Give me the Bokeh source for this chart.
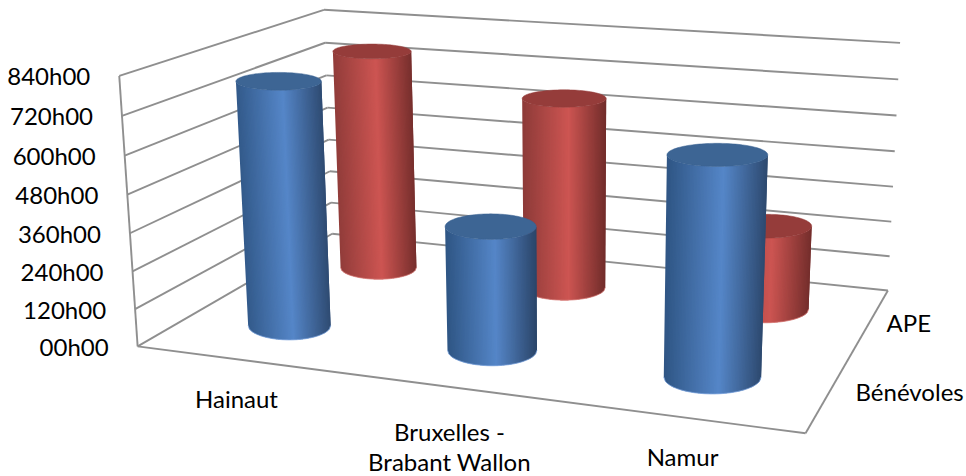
import numpy as np
from bokeh.plotting import figure
from bokeh.core.properties import value
from bokeh.embed import file_html
from bokeh.resources import INLINE

# ---- data (hours) ----
categories = ["Hainaut", "Bruxelles -", "Brabant Wallon", "Namur"]
series_names = ["Bénévoles", "APE"]
benevoles = [785, 390, 665]
ape = [765, 650, 280]
tick_values = [0, 120, 240, 360, 480, 600, 720, 840]
tick_labels = ["00h00", "120h00", "240h00", "360h00", "480h00", "600h00", "720h00", "840h00"]
z_max = 840

# ---- layout: camera fitted on the visible corners of the 3D box ----
box_unit = [(0,0,0),(1,0,0),(1,1,0),(0,1,0),(0,0,1),(0,1,1),(1,1,1)]
box_px = [(136,347),(805,432),(887,291),(333,232),(120,75),(322,10),(900,42)]
A = []
for (X,Y,Z),(u,v) in zip(box_unit, box_px):
    A.append([X,Y,Z,1,0,0,0,0,-u*X,-u*Y,-u*Z,-u])
    A.append([0,0,0,0,X,Y,Z,1,-v*X,-v*Y,-v*Z,-v])
P = np.linalg.svd(np.array(A, float))[2][-1].reshape(3,4)

def proj(x, y, z):
    x, y, z = np.broadcast_arrays(np.asarray(x,float), np.asarray(y,float), np.asarray(z,float))
    h = P @ np.stack([x, y, z, np.ones_like(x)])
    return h[0]/h[2], h[1]/h[2]

W, H = 966, 476
p = figure(width=W, height=H, x_range=(0, W), y_range=(H, 0), output_backend="svg",
           toolbar_location=None, min_border=0, outline_line_color=None)
p.axis.visible = False
p.grid.visible = False
p.background_fill_color = "white"

GRID = "#8f8f8f"
def seg(a, b, w=1.9):
    xs, ys = proj([a[0], b[0]], [a[1], b[1]], [a[2], b[2]])
    p.line(list(xs), list(ys), line_color=GRID, line_width=w)

for v in tick_values:
    z = v/z_max
    seg((0,0,z), (0,1,z))
    seg((0,1,z), (1,1,z))
seg((0,0,0), (0,0,1))
seg((0,0,0), (1,0,0))
seg((1,0,0), (1,1,0))

def ramp(t, dark_l, light, dark_r):
    stops = np.array([dark_l, light, dark_r], float)
    c = [np.interp(t, [0, .55, 1], stops[:,i]) for i in range(3)]
    return "#%02x%02x%02x" % tuple(int(round(k)) for k in c)

BLUE = ((46,84,130),(85,134,200),(42,68,104),"#3d6594","#7fa6de")
RED = ((140,58,56),(205,85,82),(112,44,42),"#953c3a","#d9807c")
RX, RY = 0.070, 0.115
N = 70
u = np.linspace(-1, 1, N+1)
near = np.pi + np.arccos(-u)        # front half, evenly spaced on screen
ring = np.linspace(0, 2*np.pi, 121)

def ellipse(cx, cy, z, th):
    """upright screen ellipse of the cylinder's section at height z"""
    x0, y0 = proj(cx, cy, z)
    xr, _ = proj(cx+RX, cy, z)
    _, yb = proj(cx, cy+RY, z)
    return x0 + abs(xr-x0)*np.cos(th), y0 + (yb-y0)*np.sin(th)

def cylinder(cx, cy, val, col):
    zt = val/z_max
    xb, yb = ellipse(cx, cy, 0, near)
    xt, yt = ellipse(cx, cy, zt, near)
    lo, hi = min(xb.min(), xt.min()), max(xb.max(), xt.max())
    xs, ys, cs = [], [], []
    for i in range(len(near)-1):
        j = min(i+2, len(near)-1)   # overlaps the next strip, so no seam shows
        xs.append(list(xb[i:j+1]) + list(xt[i:j+1])[::-1])
        ys.append(list(yb[i:j+1]) + list(yt[i:j+1])[::-1])
        t = ((xb[i]+xb[i+1]+xt[i]+xt[i+1])/4-lo)/(hi-lo)
        cs.append(ramp(t, col[0], col[1], col[2]))
    p.patches(xs, ys, fill_color=cs, line_color=None)
    p.line(list(xb), list(yb), line_color=col[4], line_width=1, line_alpha=0.8)
    rx, ry = ellipse(cx, cy, zt, ring)
    p.patch(list(rx), list(ry), fill_color=col[3], line_color=col[3], line_width=0.5)

depths = {"APE": 0.75, "Bénévoles": 0.25}
for i, v in enumerate(ape):
    cylinder((i+.5)/3, depths["APE"], v, RED)
for i, v in enumerate(benevoles):
    cylinder((i+.5)/3, depths["Bénévoles"], v, BLUE)

FONT = value("Lato")
SIZE = "24px"
tx, ty = proj(0, 0, np.array(tick_values)/z_max)
p.text(list(tx-29), list(ty), text=tick_labels, text_font=FONT, text_font_size=SIZE,
       text_align="right", text_baseline="middle", text_color="#000000")
p.text([236, 449, 449, 682], [398, 431, 461, 456], text=categories, text_font=FONT, text_font_size=SIZE,
       text_align="center", text_baseline="middle", text_color="#000000")
p.text([855, 886], [391, 322], text=series_names, text_font=FONT, text_font_size=SIZE,
       text_align="left", text_baseline="middle", text_color="#000000")

open("out.html", "w").write(file_html(p, INLINE))
